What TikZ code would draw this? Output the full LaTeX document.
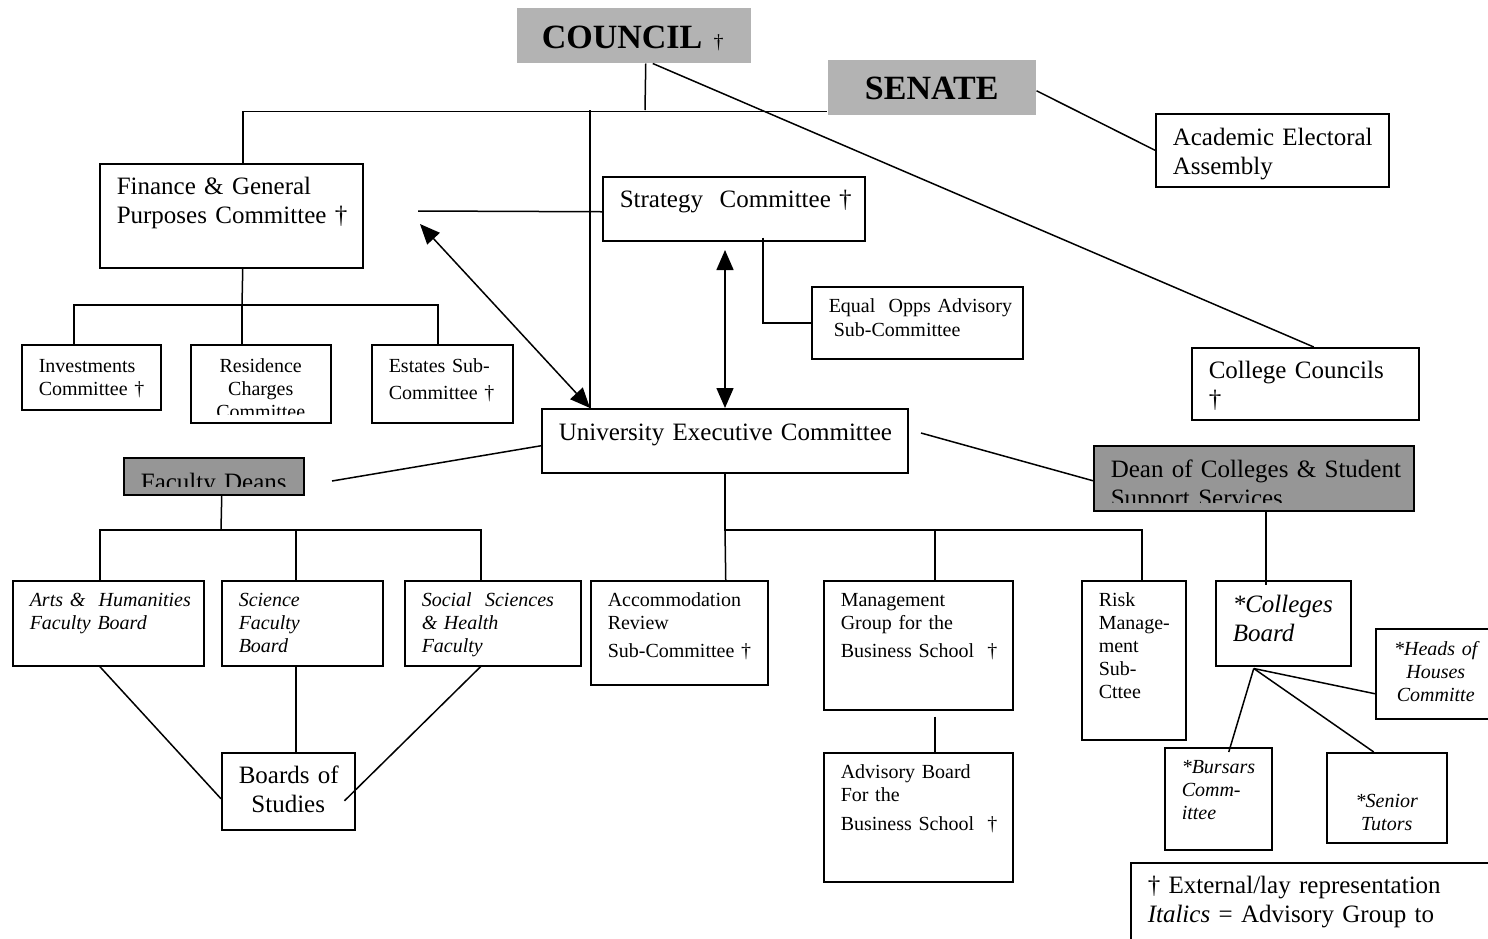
\documentclass[tikz,border=0pt]{standalone}
\usepackage{fontspec}
\setmainfont{Liberation Serif}
\usetikzlibrary{arrows.meta,positioning}
\hyphenpenalty=10000
\definecolor{headgray}{HTML}{B3B3B3}
\definecolor{deangray}{HTML}{969696}
\tikzset{
  basic/.style = {draw, rectangle, anchor=north west},
  cell/.style n args = {3}{basic, inner xsep=17pt, inner ysep=0pt, align=left,
    text width=#1pt, text height=#2pt, text depth=#3pt},
  head/.style = {fill=headgray, anchor=north west, inner ysep=0pt,
    font=\fontsize{34}{38}\selectfont\bfseries},
  big/.style = {font=\fontsize{25}{29}\selectfont},
  small/.style = {font=\fontsize{20}{23}\selectfont},
  bigit/.style = {font=\fontsize{25}{29}\selectfont\itshape},
  smallit/.style = {font=\fontsize{20}{23}\selectfont\itshape},
  cut/.style n args = {4}{path picture={
    \clip (path picture bounding box.north west)
      rectangle ([yshift=8pt]path picture bounding box.south east);
    \node[#1, anchor=base, inner sep=0pt, text width=#2pt]
      at ([yshift=-#3pt]path picture bounding box.north) {#4};}},
}

\begin{document}
\begin{tikzpicture}[
  x=1pt, y=-1pt,
  line width=1.5pt,
  >={Triangle[length=20pt,width=17pt]},
 ]
 \useasboundingbox (0,0) rectangle (1488,938);
 \clip (0,0) rectangle (1488,938);

 \node[head, inner xsep=25pt, text width=184pt, text height=41pt, text depth=14pt, align=left]
   (council) at (516,7) {COUNCIL {\mdseries\fontsize{20}{23}\selectfont †}};
 \node[head, inner xsep=17pt, text width=174pt, text height=40pt, text depth=15pt, align=center]
   (senate) at (827,59) {SENATE};

 \node[cell={199}{32}{41}, big] (acad) at (1155,113) {Academic~Electoral\\Assembly};
 \node[cell={229}{31}{73}, big] (fin) at (99,163) {Finance~\&~General\\Purposes~Committee~†};
 \node[cell={228}{31}{33}, big] (strat) at (602,176) {Strategy~~Committee~†};
 \node[cell={177}{26}{46}, small] (eqopp) at (811,286) {Equal~~Opps~Advisory\\[1pt]\hspace*{5pt}\mbox{Sub-Committee}};
 \node[cell={193}{31}{41}, big] (colcoun) at (1191,347) {College~Councils\\†};
 \node[cell={105}{28}{37}, small] (inv) at (21,344) {Investments\\Committee~†};
 \node[basic, minimum width=140pt, minimum height=78pt, inner sep=0pt,
   cut={small, align=center}{106}{28}{Residence\\Charges\\Committee}] (resid) at (190,344) {};
 \node[cell={107}{28}{50}, small] (est) at (371,344) {Estates~\mbox{Sub-}\\[4pt]Committee~†};
 \node[cell={332}{32}{32}, big] (uec) at (541,408) {University~Executive~Committee};
 \node[basic, fill=deangray, minimum width=180pt, minimum height=37pt, inner sep=0pt,
   cut={big, align=center}{146}{33}{Faculty~Deans}] (deans) at (123,457) {};
 \node[basic, fill=deangray, minimum width=320pt, minimum height=65pt, inner sep=0pt,
   cut={big, align=left}{286}{32}{Dean~of~Colleges~\&~Student\\Support~Services}] (dean) at (1093,445) {};

 \node[cell={157}{26}{59}, smallit] (arts) at (12,580) {Arts~\&~~Humanities\\Faculty~Board};
 \node[cell={127}{26}{59}, smallit] (sci) at (221,580) {Science\\Faculty\\Board};
 \node[cell={142}{26}{59}, smallit] (soc) at (404,580) {Social~~Sciences\\\&~Health\\Faculty};
 \node[cell={99}{31}{46}, big, align=center] (boards) at (221,752) {Boards~of\\Studies};
 \node[cell={143}{26}{78}, small] (accom) at (590,580) {Accommodation\\Review\\[5pt]\mbox{Sub-Committee}~†};
 \node[cell={155}{26}{103}, small] (mgmt) at (823,580) {Management\\Group~for~the\\[5pt]Business~School~~†};
 \node[cell={155}{26}{103}, small] (adv) at (823,752) {Advisory~Board\\For~the\\[6pt]Business~School~~†};
 \node[cell={70}{26}{133}, small] (risk) at (1081,580) {Risk\\\mbox{Manage-}\\ment\\\mbox{Sub-}\\Cttee};
 \node[cell={101}{32}{53}, bigit] (colbd) at (1215,580) {*Colleges\\Board};
 \node[cell={86}{27}{63}, smallit, align=center] (heads) at (1375,628) {*Heads~of\\Houses\\Committe};
 \node[cell={73}{26}{76}, smallit] (burs) at (1164,747) {*Bursars\\\mbox{Comm-}\\ittee};
 \node[cell={86}{55}{35}, smallit, align=center] (senior) at (1326,752) {*Senior\\Tutors};
 \node[cell={366}{31}{89}, big] (legend) at (1130,862) {†~External/lay~representation\\\textit{Italics}~=~Advisory~Group~to};

 \coordinate (top) at (645,110);
 \coordinate (finr) at (418,211);
 \coordinate (fina) at (420,224);
 \coordinate (sarr) at (725,250);
 \coordinate (fbus) at (242,305);
 \coordinate (deanl) at (332,481);
 \coordinate (uecr) at (921,433);
 \coordinate (dbus) at (221,530);
 \coordinate (ubus) at (725,530);
 \coordinate (fan) at ([shift={(-29.5pt,-2pt)}]colbd.south);

 \draw ([xshift=12pt]council.south) -- (top);
 \draw ([xshift=11.5pt]fin.north) |- ([yshift=4pt]senate.south west);
 \draw ([xshift=49pt]uec.north west) coordinate (uecl) -- (uecl |- top);
 \draw[<->] (fina) -- (uecl);
 \draw (finr) -- ([yshift=-3pt]strat.west);
 \draw[<->] (sarr) -- (sarr |- uec.north);
 \draw ([xshift=29pt,yshift=4pt]strat.south) |- (eqopp.west);
 \draw ([xshift=19pt]council.south) -- ([xshift=8.5pt]colcoun.north);
 \draw ([yshift=-3.5pt]senate.east) -- (acad.west);

 \draw ([xshift=11.5pt]fin.south) -- (fbus);
 \draw ([xshift=-17.5pt]inv.north) |- (fbus) -| ([xshift=-4.5pt]est.north);
 \draw (fbus) -- (fbus |- resid.north);

 \draw ([yshift=-5pt]uec.west) -- (deanl);
 \draw (uecr) -- ([yshift=-2.5pt]dean.west);

 \draw ([xshift=8pt]deans.south) -- (dbus);
 \draw ([xshift=-8.5pt]arts.north) |- (dbus) -| ([xshift=-12pt]soc.north);
 \draw ([xshift=-6.5pt]sci.north) -- ([xshift=-6.5pt]sci.north |- dbus);
 \draw ([xshift=-8.5pt]arts.south) -- ([yshift=-7.5pt]boards.west);
 \draw ([xshift=-6.5pt]sci.south) -- ([xshift=-6.5pt]sci.south |- boards.north);
 \draw ([xshift=-12pt]soc.south) -- ([shift={(-11pt,-9.5pt)}]boards.east);

 \draw (ubus |- uec.south) -- (ubus) -| ([xshift=8pt]risk.north);
 \draw (ubus) -- ([xshift=46.5pt]accom.north);
 \draw ([xshift=16.5pt]mgmt.north) -- ([xshift=16.5pt]mgmt.north |- ubus);
 \draw ([xshift=16.5pt,yshift=-6pt]mgmt.south) -- ([xshift=16.5pt]adv.north);

 \draw ([xshift=12pt]dean.south) -- ++(0,73);
 \draw (fan) -- ([shift={(10.5pt,-5pt)}]burs.north);
 \draw (fan) -- ([xshift=-13pt]senior.north);
 \draw (fan) -- ([yshift=-20pt]heads.west);

\end{tikzpicture}
\end{document}
